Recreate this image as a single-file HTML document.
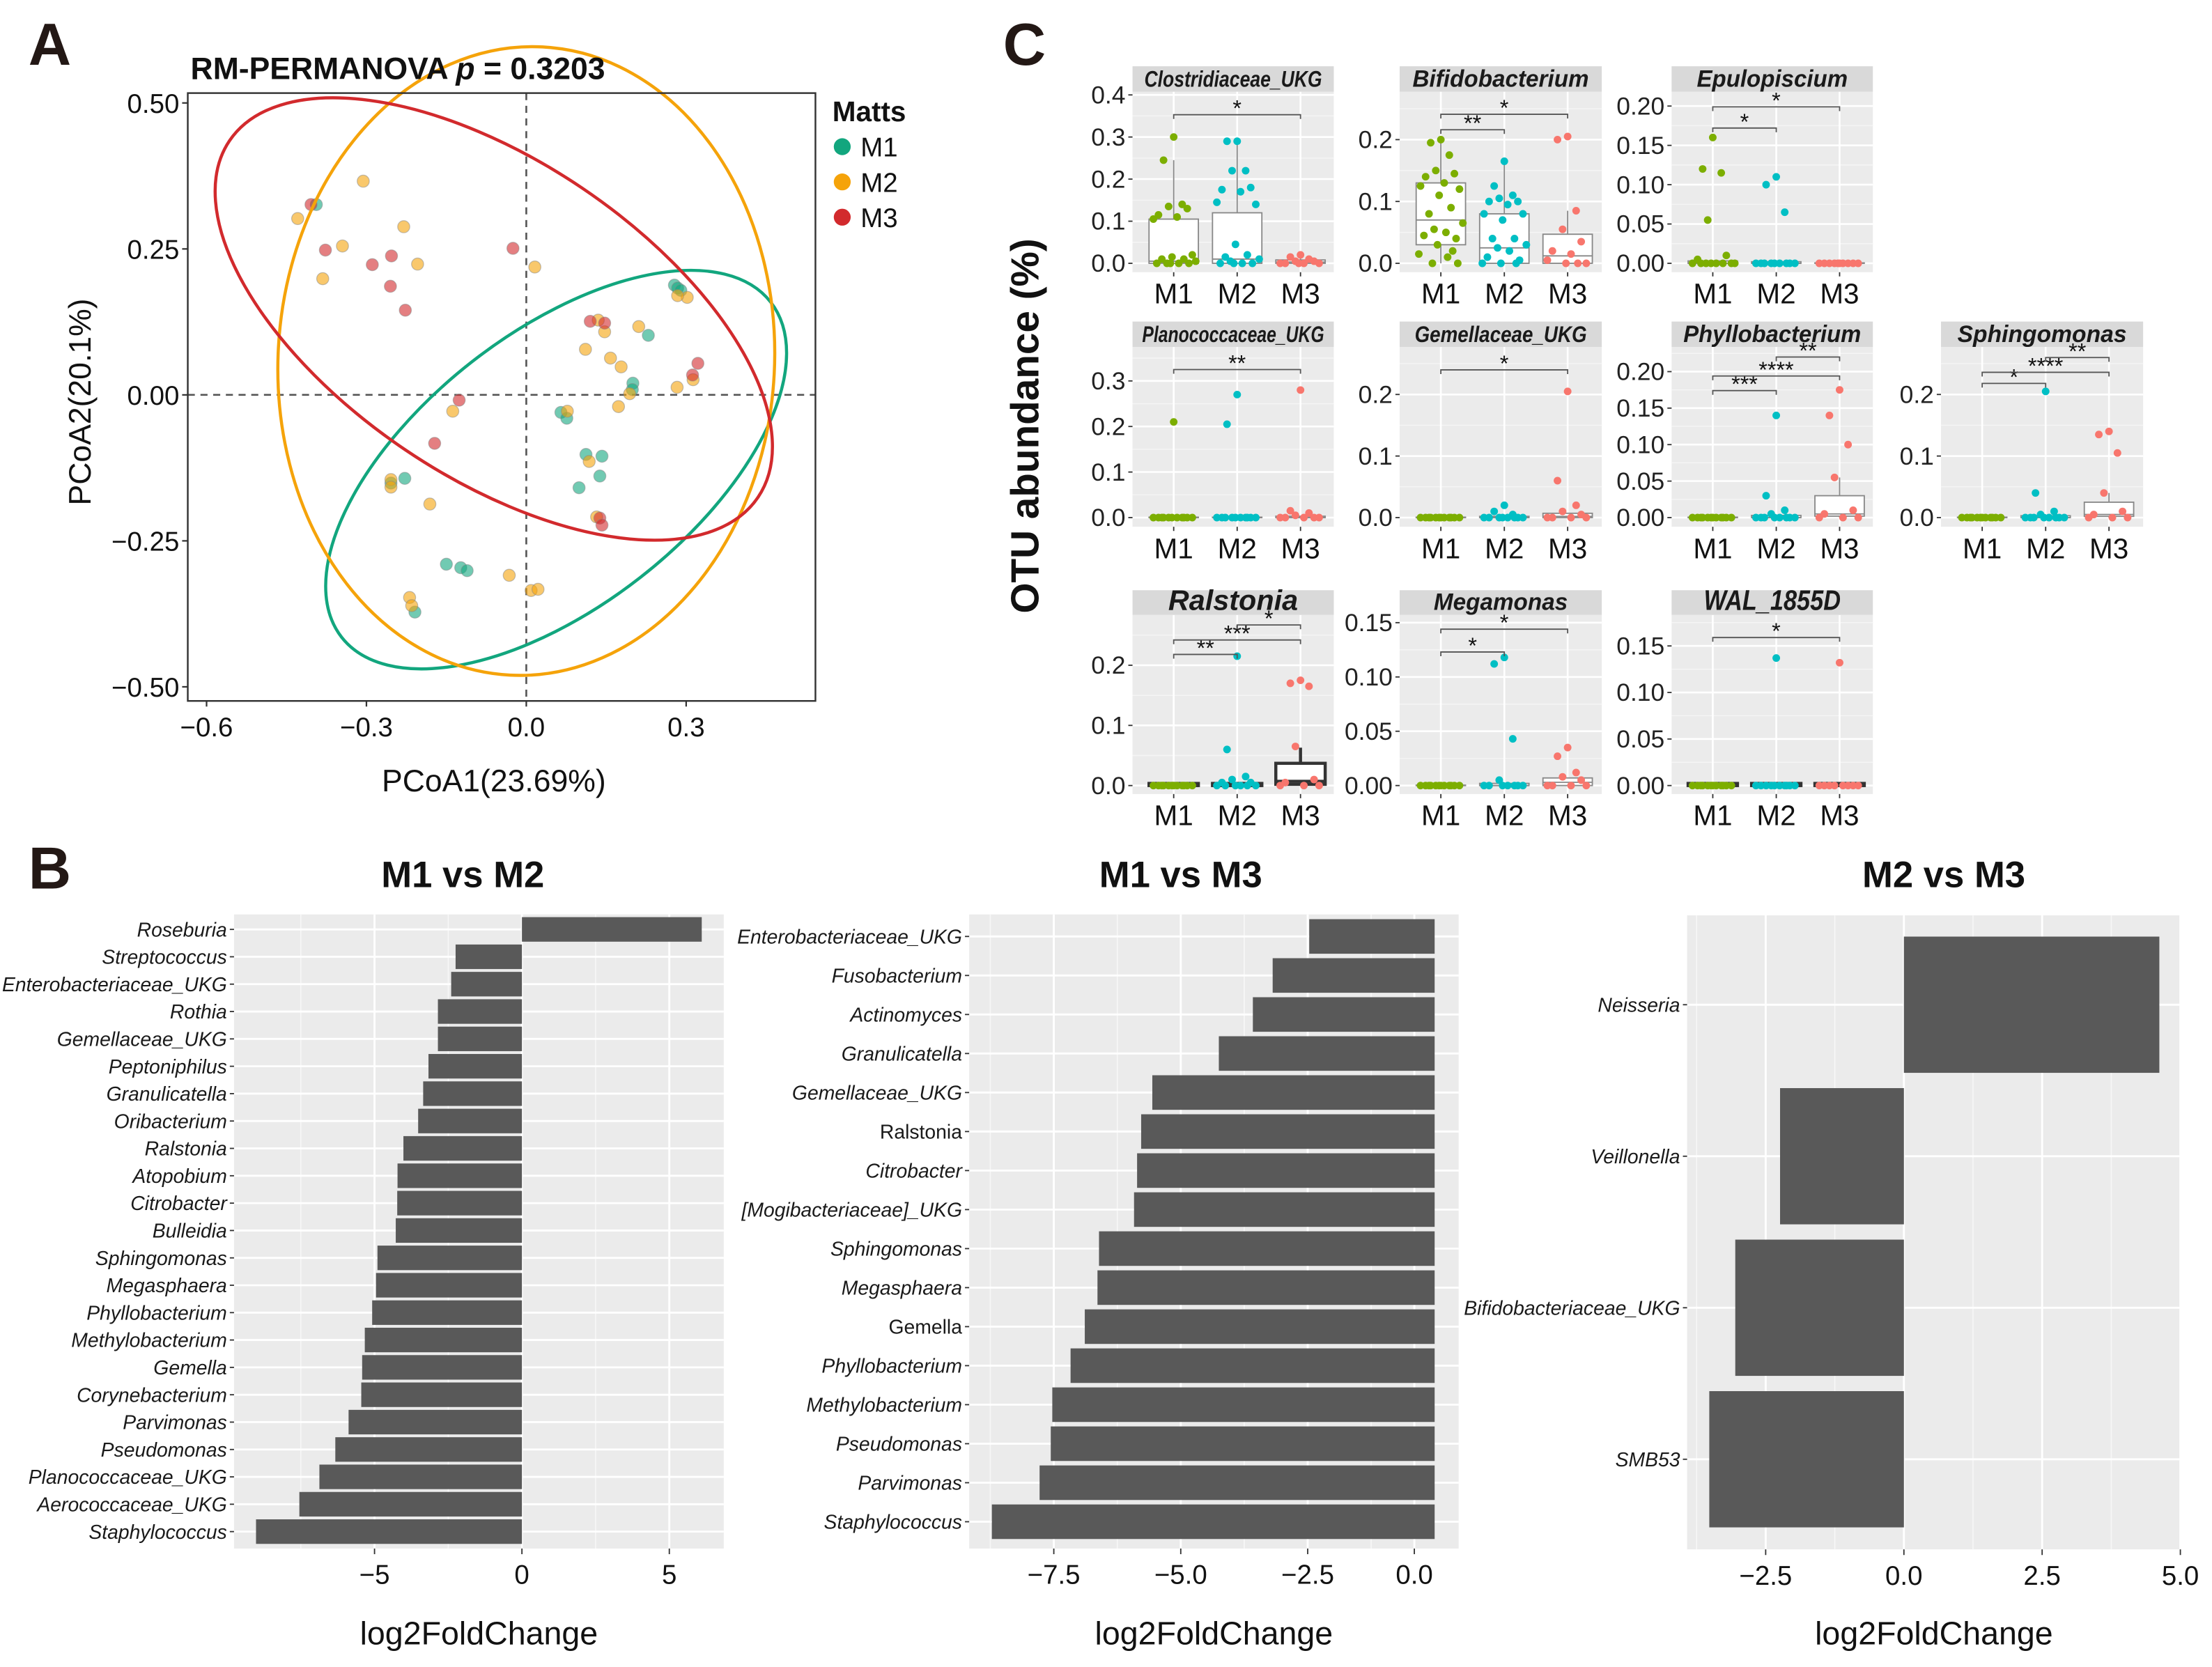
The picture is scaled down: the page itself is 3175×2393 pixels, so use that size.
<!DOCTYPE html>
<html><head><meta charset="utf-8">
<style>
html,body{margin:0;padding:0;background:#fff;}
svg{display:block;font-family:"Liberation Sans",sans-serif;}
</style></head>
<body>
<svg id="fig" xmlns="http://www.w3.org/2000/svg" width="3175" height="2393" viewBox="0 0 1568 1182">
<rect x="0" y="0" width="1568" height="1182" fill="#fff"/>
<text x="20" y="46" font-size="42" font-weight="bold" fill="#231815">A</text>
<text x="711" y="46" font-size="42" font-weight="bold" fill="#231815">C</text>
<text x="20" y="630" font-size="42" font-weight="bold" fill="#231815">B</text>
<g id="panelA"></g>
<g id="panelC"></g>
<g id="panelB"></g>
</svg>
<script>
// ---------- Panel A data ----------
const pcoaM1 = [[-0.394,0.326],[0.278,0.188],[0.284,0.183],[0.290,0.179],[0.229,0.102],[0.200,0.020],[0.199,0.009],[0.065,-0.030],[0.076,-0.040],[0.112,-0.102],[0.142,-0.105],[0.138,-0.139],[0.099,-0.159],[-0.228,-0.143],[-0.254,-0.151],[-0.150,-0.290],[-0.123,-0.296],[-0.111,-0.301],[-0.209,-0.372]];
const pcoaM2 = [[-0.306,0.366],[-0.429,0.302],[-0.230,0.288],[-0.345,0.255],[-0.382,0.199],[-0.204,0.224],[0.016,0.219],[0.135,0.128],[0.147,0.108],[0.211,0.117],[0.111,0.078],[0.158,0.063],[0.178,0.048],[0.194,0.002],[0.283,0.013],[0.313,0.026],[0.173,-0.020],[-0.138,-0.028],[0.077,-0.028],[0.118,-0.114],[-0.254,-0.145],[-0.254,-0.158],[-0.181,-0.187],[0.132,-0.209],[-0.032,-0.309],[0.009,-0.335],[0.022,-0.333],[-0.219,-0.347],[-0.215,-0.361],[0.302,0.167],[0.284,0.170]];
const pcoaM3 = [[-0.404,0.326],[-0.377,0.248],[-0.289,0.223],[-0.253,0.238],[-0.255,0.186],[-0.227,0.145],[-0.025,0.251],[0.120,0.126],[0.147,0.123],[0.322,0.054],[0.312,0.034],[-0.126,-0.009],[-0.172,-0.083],[0.138,-0.211],[0.142,-0.223]];
const ellipseCenters = [[0.056,-0.128],[0.0,0.058],[-0.061,0.130]];
const pcoaXTicks = [-0.6,-0.3,0.0,0.3];
const pcoaXTickLabels = ["\u22120.6","\u22120.3","0.0","0.3"];
const pcoaYTicks = [0.5,0.25,0,-0.25,-0.5];
const pcoaYTickLabels = ["0.50","0.25","0.00","\u22120.25","\u22120.50"];

// ---------- Panel C data ----------
const boxTitles = ["Clostridiaceae_UKG","Bifidobacterium","Epulopiscium","Planococcaceae_UKG","Gemellaceae_UKG","Phyllobacterium","Sphingomonas","Ralstonia","Megamonas","WAL_1855D"];
const abundM1 = [
 [0.30,0.245,0.14,0.135,0.13,0.115,0.11,0.105,0.02,0.015,0.01,0.01,0.005,0,0,0,0,0],
 [0.2,0.195,0.175,0.15,0.145,0.14,0.13,0.125,0.12,0.11,0.09,0.08,0.065,0.055,0.05,0.045,0.04,0.03,0.02,0.015,0.01,0,0],
 [0.16,0.12,0.115,0.055,0.01,0.005,0,0,0,0,0,0,0,0],
 [0.21,0,0,0,0,0,0,0,0,0,0,0],
 [0,0,0,0,0,0,0,0,0,0,0,0],
 [0,0,0,0,0,0,0,0,0,0,0,0],
 [0,0,0,0,0,0,0,0,0,0,0,0],
 [0,0,0,0,0,0,0,0,0,0,0,0],
 [0,0,0,0,0,0,0,0,0,0,0,0],
 [0,0,0,0,0,0,0,0,0,0,0,0]];
const abundM2 = [
 [0.29,0.29,0.22,0.22,0.18,0.175,0.17,0.145,0.14,0.045,0.02,0.015,0.01,0.005,0,0,0,0],
 [0.165,0.125,0.11,0.105,0.1,0.1,0.095,0.08,0.08,0.07,0.04,0.04,0.03,0.025,0.02,0.01,0.005,0,0,0],
 [0.11,0.1,0.065,0,0,0,0,0,0,0,0,0],
 [0.27,0.205,0,0,0,0,0,0,0,0,0,0],
 [0.02,0.01,0.005,0,0,0,0,0,0,0,0],
 [0.14,0.03,0.01,0.005,0,0,0,0,0,0,0,0],
 [0.205,0.04,0.01,0.005,0,0,0,0,0,0,0,0],
 [0.215,0.06,0.015,0.01,0.005,0.005,0,0,0,0,0,0],
 [0.118,0.112,0.043,0.005,0,0,0,0,0,0,0],
 [0.137,0,0,0,0,0,0,0,0,0,0]];
const abundM3 = [
 [0.02,0.015,0.01,0.005,0.005,0,0,0,0,0],
 [0.205,0.2,0.085,0.055,0.035,0.02,0.015,0.005,0,0,0],
 [0,0,0,0,0,0,0,0,0,0],
 [0.28,0.015,0.01,0.005,0,0,0,0,0],
 [0.205,0.06,0.02,0.01,0.005,0,0,0,0],
 [0.175,0.14,0.1,0.055,0.01,0.005,0,0,0],
 [0.14,0.135,0.105,0.04,0.01,0.005,0,0,0],
 [0.175,0.17,0.165,0.065,0.01,0.005,0,0,0],
 [0.035,0.027,0.012,0.008,0.005,0,0,0,0],
 [0.132,0,0,0,0,0,0,0,0]];
// [lower, q1, median, q3, upper] per group
const boxStatsM1 = [[0,0,0.005,0.105,0.245],[0,0.03,0.07,0.13,0.2],[0,0,0,0.003,0.003],[0,0,0,0,0],[0,0,0,0,0],[0,0,0,0,0],[0,0,0,0,0],[0,0,0,0,0],[0,0,0,0,0],[0,0,0,0,0]];
const boxStatsM2 = [[0,0,0.01,0.12,0.29],[0,0,0.025,0.08,0.165],[0,0,0,0.002,0.002],[0,0,0,0,0],[0,0,0,0.002,0.002],[0,0,0,0.003,0.003],[0,0,0,0.003,0.003],[0,0,0,0.003,0.003],[0,0,0,0.002,0.002],[0,0,0,0,0]];
const boxStatsM3 = [[0,0,0.003,0.008,0.02],[0,0,0.012,0.047,0.085],[0,0,0,0,0],[0,0,0,0.003,0.003],[0,0,0.002,0.007,0.007],[0,0.002,0.005,0.03,0.055],[0,0.002,0.005,0.025,0.04],[0,0.002,0.007,0.037,0.063],[0,0,0.003,0.007,0.007],[0,0,0,0,0]];
// brackets: [panel, groupA, groupB, yValue, label]
const sigBrackets = [
 [0,0,2,0.353,"*"],
 [1,0,1,0.216,"**"],[1,0,2,0.241,"*"],
 [2,0,1,0.172,"*"],[2,0,2,0.199,"*"],
 [3,0,2,0.325,"**"],
 [4,0,2,0.240,"*"],
 [5,0,1,0.174,"***"],[5,0,2,0.194,"****"],[5,1,2,0.220,"**"],
 [6,0,1,0.218,"*"],[6,0,2,0.236,"****"],[6,1,2,0.260,"**"],
 [7,0,1,0.218,"**"],[7,0,2,0.242,"***"],[7,1,2,0.267,"*"],
 [8,0,1,0.123,"*"],[8,0,2,0.144,"*"],
 [9,0,2,0.159,"*"]];
const boxYTicks = [[0,0.1,0.2,0.3,0.4],[0,0.1,0.2],[0,0.05,0.1,0.15,0.2],[0,0.1,0.2,0.3],[0,0.1,0.2],[0,0.05,0.1,0.15,0.2],[0,0.1,0.2],[0,0.1,0.2],[0,0.05,0.1,0.15],[0,0.05,0.1,0.15]];
const boxYTickLabels = [["0.0","0.1","0.2","0.3","0.4"],["0.0","0.1","0.2"],["0.00","0.05","0.10","0.15","0.20"],["0.0","0.1","0.2","0.3"],["0.0","0.1","0.2"],["0.00","0.05","0.10","0.15","0.20"],["0.0","0.1","0.2"],["0.0","0.1","0.2"],["0.00","0.05","0.10","0.15"],["0.00","0.05","0.10","0.15"]];
const groupNames = ["M1","M2","M3"];

// ---------- Panel B data ----------
const catsM1M2 = ["Roseburia","Streptococcus","Enterobacteriaceae_UKG","Rothia","Gemellaceae_UKG","Peptoniphilus","Granulicatella","Oribacterium","Ralstonia","Atopobium","Citrobacter","Bulleidia","Sphingomonas","Megasphaera","Phyllobacterium","Methylobacterium","Gemella","Corynebacterium","Parvimonas","Pseudomonas","Planococcaceae_UKG","Aerococcaceae_UKG","Staphylococcus"];
const valsM1M2 = [6.1,-2.25,-2.4,-2.85,-2.85,-3.17,-3.35,-3.52,-4.02,-4.22,-4.23,-4.28,-4.9,-4.95,-5.08,-5.33,-5.42,-5.45,-5.88,-6.33,-6.87,-7.55,-9.02];
const catsM1M3 = ["Enterobacteriaceae_UKG","Fusobacterium","Actinomyces","Granulicatella","Gemellaceae_UKG","Ralstonia","Citrobacter","[Mogibacteriaceae]_UKG","Sphingomonas","Megasphaera","Gemella","Phyllobacterium","Methylobacterium","Pseudomonas","Parvimonas","Staphylococcus"];
const valsM1M3 = [-2.47,-3.19,-3.58,-4.25,-5.56,-5.78,-5.86,-5.92,-6.61,-6.64,-6.89,-7.17,-7.53,-7.56,-7.78,-8.72];
const catsM2M3 = ["Neisseria","Veillonella","Bifidobacteriaceae_UKG","SMB53"];
const valsM2M3 = [4.62,-2.24,-3.05,-3.52];
const ticksM1M2 = [-5,0,5];
const tickLabelsM1M2 = ["\u22125","0","5"];
const ticksM1M3 = [-7.5,-5,-2.5,-0.4];
const tickLabelsM1M3 = ["\u22127.5","\u22125.0","\u22122.5","0.0"];
const ticksM2M3 = [-2.5,0,2.5,5];
const tickLabelsM2M3 = ["\u22122.5","0.0","2.5","5.0"];

const NS="http://www.w3.org/2000/svg";
function mk(parent,tag,attrs,text){const e=document.createElementNS(NS,tag);for(const k in attrs)e.setAttribute(k,attrs[k]);if(text!==undefined)e.textContent=text;parent.appendChild(e);return e;}

// ===== Panel A =====
(function(){
 const g=document.getElementById('panelA');
 const xA=v=>373+v*377.8, yA=v=>280-v*414;
 const L=133,R=578,T=66,B=497;
 mk(g,'rect',{x:L,y:T,width:R-L,height:B-T,fill:'#fff'});
 mk(g,'line',{x1:xA(0),x2:xA(0),y1:T,y2:B,stroke:'#555','stroke-width':1.3,'stroke-dasharray':'5,4'});
 mk(g,'line',{x1:L,x2:R,y1:yA(0),y2:yA(0),stroke:'#555','stroke-width':1.3,'stroke-dasharray':'5,4'});
 const ell=[{c:ellipseCenters[0],a:193,b:97,ang:-38,col:'#12A67E'},{c:ellipseCenters[1],a:176,b:223,ang:3,col:'#F5A30A'},{c:ellipseCenters[2],a:226,b:112,ang:34,col:'#D22A2D'}];
 const names=['ellipse-m1','ellipse-m2','ellipse-m3'];
 const cols=['#12A67E','#F5A30A','#D22A2D'];
 [pcoaM1,pcoaM2,pcoaM3].forEach((pts,k)=>{
  pts.forEach(p=>{
   const c=mk(g,'circle',{cx:xA(p[0]),cy:yA(p[1]),r:4.3,fill:cols[k],'fill-opacity':0.6,stroke:'#888','stroke-opacity':0.5,'stroke-width':0.6});
   
   
  });
 });
 ell.forEach((e,i)=>{
  const cx=xA(e.c[0]),cy=yA(e.c[1]);
  const el=mk(g,'ellipse',{cx:cx,cy:cy,rx:e.a,ry:e.b,fill:'none',stroke:e.col,'stroke-width':2.2,transform:`rotate(${e.ang} ${cx} ${cy})`});
  
  
 });
 mk(g,'rect',{x:L,y:T,width:R-L,height:B-T,fill:'none',stroke:'#333','stroke-width':1.2});
 pcoaXTicks.forEach((t,i)=>{
  mk(g,'line',{x1:xA(t),x2:xA(t),y1:B,y2:B+4,stroke:'#333','stroke-width':1.1});
  const tx=mk(g,'text',{x:xA(t),y:B+25,'font-size':19,'text-anchor':'middle',fill:'#111'},pcoaXTickLabels[i]);
  
  
 });
 pcoaYTicks.forEach((t,i)=>{
  mk(g,'line',{x1:L-4,x2:L,y1:yA(t),y2:yA(t),stroke:'#333','stroke-width':1.1});
  const tx=mk(g,'text',{x:L-6,y:yA(t)+7,'font-size':19,'text-anchor':'end',fill:'#111'},pcoaYTickLabels[i]);
  
  
 });
 const xt=mk(g,'text',{x:350,y:561,'font-size':22,'text-anchor':'middle',fill:'#111'},'PCoA1(23.69%)');
 
 const yt=mk(g,'text',{x:0,y:0,'font-size':22,'text-anchor':'middle',fill:'#111',transform:'translate(64,285) rotate(-90)'},'PCoA2(20.1%)');
 
 const ti=mk(g,'text',{x:135,y:56,'font-size':22,'font-weight':'bold',fill:'#111'});
 
 mk(ti,'tspan',{},'RM-PERMANOVA ');mk(ti,'tspan',{'font-style':'italic'},'p');mk(ti,'tspan',{},' = 0.3203');
 const lt=mk(g,'text',{x:590,y:86,'font-size':20,'font-weight':'bold',fill:'#111'},'Matts');
 
 groupNames.forEach((n,i)=>{
  const y=104+i*25;
  const c=mk(g,'circle',{cx:597,cy:y,r:6,fill:cols[i]});
  
  const t=mk(g,'text',{x:610,y:y+7,'font-size':19,fill:'#111'},n);
  
 });
})();

// ===== Panel C =====
(function(){
 const g=document.getElementById('panelC');
 const colX=[[802.8,945.5],[992.2,1135.5],[1185,1327.7],[1376,1519.3]];
 const rows=[{st:47,sb:65,bot:193,zero:186.7,lab:215},{st:228,sb:246,bot:373.5,zero:367,lab:396},{st:418.5,sb:436,bot:563,zero:557,lab:585}];
 const place=[[0,0],[0,1],[0,2],[1,0],[1,1],[1,2],[1,3],[2,0],[2,1],[2,2]];
 const scale=[298.5,438.5,557.5,323,436.5,517.5,436.5,426.5,770,660];
 const gcol=['#7CAE00','#00BFC4','#F8766D'];
 const offs=[29.2,74.2,119.1];
 const jit=[0,-6,5,-3,8,-9,2,-12,11,-1,6,-7,13,-4,3,-10,9,-2,7,-13,4,-5,10];
 const titleSize=[16,17,17,16,16,17,17,20,17,20];
 const titleLen=[126,125,107,129,122,126,120,92,95,97];
 boxTitles.forEach((title,p)=>{
  const [r,c]=place[p];const R=rows[r];const [x0,x1]=colX[c];
  const pg=mk(g,'g',{});
  
  
  const y=v=>R.zero-v*scale[p];
  const gx=k=>x0+offs[k];
  mk(pg,'rect',{x:x0,y:R.sb,width:x1-x0,height:R.bot-R.sb,fill:'#EBEBEB'});
  const tk=boxYTicks[p];
  const step=tk[1]-tk[0];
  for(let v=step/2; y(v)>R.sb; v+=step){mk(pg,'line',{x1:x0,x2:x1,y1:y(v),y2:y(v),stroke:'#F5F5F5','stroke-width':0.7});}
  tk.forEach((t,i)=>{
   if(y(t)>R.sb){mk(pg,'line',{x1:x0,x2:x1,y1:y(t),y2:y(t),stroke:'#fff','stroke-width':1.3});}
   mk(pg,'line',{x1:x0-3,x2:x0,y1:y(t),y2:y(t),stroke:'#333','stroke-width':0.9});
   const tx=mk(pg,'text',{x:x0-5,y:y(t)+6,'font-size':17.5,'text-anchor':'end',fill:'#222'},boxYTickLabels[p][i]);
   
  });
  for(let k=0;k<3;k++){mk(pg,'line',{x1:gx(k),x2:gx(k),y1:R.sb,y2:R.bot,stroke:'#fff','stroke-width':1.3});}
  mk(pg,'rect',{x:x0,y:R.st,width:x1-x0,height:R.sb-R.st,fill:'#D9D9D9'});
  const tt=mk(pg,'text',{x:(x0+x1)/2,y:R.sb-3.5,'font-size':titleSize[p],'font-weight':'bold','font-style':'italic','text-anchor':'middle',fill:'#1a1a1a',textLength:titleLen[p],lengthAdjust:'spacingAndGlyphs'},title);
  
  const dark=(p===7||p===9);
  [boxStatsM1,boxStatsM2,boxStatsM3].forEach((bs,k)=>{
   const s=bs[p];const cx=gx(k);const hw=17.5;
   const sc=dark?'#333':'#888';const sw=dark?2.2:0.9;
   mk(pg,'line',{x1:cx,x2:cx,y1:y(s[4]),y2:y(s[3]),stroke:sc,'stroke-width':sw});
   mk(pg,'line',{x1:cx,x2:cx,y1:y(s[1]),y2:y(s[0]),stroke:sc,'stroke-width':sw});
   const hb=Math.max(y(s[1])-y(s[3]),dark?1.5:0.3);
   const b=mk(pg,'rect',{x:cx-hw,y:y(s[1])-hb,width:2*hw,height:hb,fill:'#fff',stroke:sc,'stroke-width':sw});
   
   mk(pg,'line',{x1:cx-hw,x2:cx+hw,y1:y(s[2]),y2:y(s[2]),stroke:sc,'stroke-width':sw});
  });
  [abundM1,abundM2,abundM3].forEach((ab,k)=>{
   ab[p].forEach((v,i)=>{
    const pt=mk(pg,'circle',{cx:gx(k)+jit[i%jit.length]*1.2,cy:y(v),r:2.7,fill:gcol[k]});
    
    
   });
  });
  groupNames.forEach((n,k)=>{
   mk(pg,'line',{x1:gx(k),x2:gx(k),y1:R.bot,y2:R.bot+3,stroke:'#333','stroke-width':0.9});
   const tx=mk(pg,'text',{x:gx(k),y:R.lab,'font-size':20,'text-anchor':'middle',fill:'#111'},n);
   
  });
  sigBrackets.filter(b=>b[0]===p).forEach(b=>{
   const yy=y(b[3]);const xa=gx(b[1]),xb=gx(b[2]);
   const br=mk(pg,'path',{d:`M${xa},${yy+3}V${yy}H${xb}V${yy+3}`,fill:'none',stroke:'#555','stroke-width':0.9});
   
   const s=mk(pg,'text',{x:(xa+xb)/2,y:yy+1,'font-size':16,'text-anchor':'middle',fill:'#111'},b[4]);
   
  });
 });
 const yl=mk(g,'text',{x:0,y:0,'font-size':28,'font-weight':'bold','text-anchor':'middle',fill:'#111',transform:'translate(736,302) rotate(-90)'},'OTU abundance (%)');
 
})();

// ===== Panel B =====
(function(){
 const g=document.getElementById('panelB');
 function bar(o){
  const cg=mk(g,'g',{});
  
  
  const x=v=>o.x0+v*o.unit;
  const n=o.cats.length;
  const step=(o.lastY-o.firstY)/(n-1||1);
  const yc=i=>o.firstY+i*step;
  mk(cg,'rect',{x:o.L,y:o.T,width:o.R-o.L,height:o.B-o.T,fill:'#EBEBEB'});
  o.minor.forEach(v=>mk(cg,'line',{x1:x(v),x2:x(v),y1:o.T,y2:o.B,stroke:'#F7F7F7','stroke-width':0.8}));
  o.major.forEach(v=>mk(cg,'line',{x1:x(v),x2:x(v),y1:o.T,y2:o.B,stroke:'#fff','stroke-width':1.4}));
  o.cats.forEach((c,i)=>mk(cg,'line',{x1:o.L,x2:o.R,y1:yc(i),y2:yc(i),stroke:'#fff','stroke-width':1.4}));
  o.vals.forEach((v,i)=>{
   const a=Math.min(x(0),x(v)),w=Math.abs(x(v)-x(0));
   const b=mk(cg,'rect',{x:a,y:yc(i)-o.bh/2,width:w,height:o.bh,fill:'#595959'});
   
   
  });
  o.cats.forEach((c,i)=>{
   mk(cg,'line',{x1:o.L-3,x2:o.L,y1:yc(i),y2:yc(i),stroke:'#333','stroke-width':0.9});
   const up=(o.upright||[]).indexOf(c)>=0;
   const t=mk(cg,'text',{x:o.L-5,y:yc(i)+5,'font-size':o.fs,'font-style':up?'normal':'italic','text-anchor':'end',fill:'#1a1a1a'},c);
   
  });
  o.ticks.forEach((t,i)=>{
   mk(cg,'line',{x1:x(t),x2:x(t),y1:o.B,y2:o.B+4,stroke:'#333','stroke-width':0.9});
   const tx=mk(cg,'text',{x:x(t),y:o.B+25,'font-size':19,'text-anchor':'middle',fill:'#111'},o.labels[i]);
   
  });
  const ti=mk(cg,'text',{x:o.titleX,y:629,'font-size':26,'font-weight':'bold','text-anchor':'middle',fill:'#111'},o.title);
  
  const xt=mk(cg,'text',{x:(o.L+o.R)/2,y:1166,'font-size':23,'text-anchor':'middle',fill:'#111'},'log2FoldChange');
  
 }
 bar({name:'m1-vs-m2-chart',title:'M1 vs M2',titleX:328,cats:catsM1M2,vals:valsM1M2,L:165.8,R:513,T:648.4,B:1098,x0:369.9,unit:20.9,firstY:659,lastY:1086,bh:17.4,fs:14,ticks:ticksM1M2,labels:tickLabelsM1M2,major:[-5,0,5],minor:[-7.5,-2.5,2.5]});
 bar({name:'m1-vs-m3-chart',title:'M1 vs M3',titleX:837,cats:catsM1M3,vals:valsM1M3,L:687,R:1034,T:648.4,B:1098,x0:1017,unit:36,firstY:664,lastY:1079,bh:24.5,fs:14,upright:['Ralstonia','Gemella'],ticks:ticksM1M3,labels:tickLabelsM1M3,major:[-7.5,-5,-2.5,-0.4],minor:[-8.75,-6.25,-3.75,-1.25]});
 bar({name:'m2-vs-m3-chart',title:'M2 vs M3',titleX:1378,cats:catsM2M3,vals:valsM2M3,L:1196,R:1546,T:649,B:1098.6,x0:1349.7,unit:39.2,firstY:712.4,lastY:1034.7,bh:96.6,fs:14,ticks:ticksM2M3,labels:tickLabelsM2M3,major:[-2.5,0,2.5,5],minor:[-3.75,-1.25,1.25,3.75]});
})();
</script>
</body></html>
